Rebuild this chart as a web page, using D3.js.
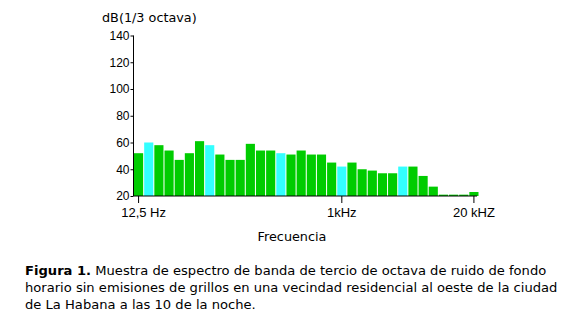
<!DOCTYPE html>
<html>
<head>
<meta charset="utf-8">
<script src="https://cdn.jsdelivr.net/npm/d3@7"></script>
<style>
  body { margin: 0; background: #fff; }
  svg { display: block; font-family: "DejaVu Sans", Verdana, sans-serif; }
  .tick text { font-size: 12px; fill: #000; }
  .x-axis .tick text { font-size: 13px; }
  .label { font-size: 12.8px; fill: #000; }
  .caption { font-size: 13.1px; fill: #000; }
</style>
</head>
<body>
<svg id="chart"></svg>
<script>
// 1/3 octave bands shown in the figure
const bands = ["10", "12.5", "16", "20", "25", "31.5", "40", "50", "63", "80",
  "100", "125", "160", "200", "250", "315", "400", "500", "630", "800",
  "1000", "1250", "1600", "2000", "2500", "3150", "4000", "5000", "6300", "8000",
  "10000", "12500", "16000", "20000"];
// level in dB for each band
const levels = [52, 60, 58, 54, 47, 52, 61, 58, 51, 47,
  47, 59, 54, 54, 52, 51, 54, 51, 51, 45,
  42, 45, 40, 39, 37, 37, 42, 42, 35, 27,
  21, 21, 21, 23];
// bands drawn in cyan
const highlighted = ["12.5", "50", "250", "1000", "4000"];
const yTicks = [20, 40, 60, 80, 100, 120, 140];
const xTickBands = ["10", "1000", "20000"];
const xTickLabels = ["12,5 Hz", "1kHz", "20 kHZ"];
const captionLines = [
  "Muestra de espectro de banda de tercio de octava de ruido de fondo",
  "horario sin emisiones de grillos en una vecindad residencial al oeste de la ciudad",
  "de La Habana a las 10 de la noche."
];

class SpectrumChart {
  constructor(_config) {
    this.config = {
      parentElement: _config.parentElement,
      containerWidth: 581,
      containerHeight: 312,
      margin: { top: 35.5, right: 102, bottom: 116, left: 133.5 }
    };
    this.initVis();
  }

  initVis() {
    let vis = this;
    vis.svg = d3.select(vis.config.parentElement)
        .attr("width", vis.config.containerWidth)
        .attr("height", vis.config.containerHeight);

    vis.innerWidth = vis.config.containerWidth - vis.config.margin.left - vis.config.margin.right;
    vis.innerHeight = vis.config.containerHeight - vis.config.margin.top - vis.config.margin.bottom;

    vis.chart = vis.svg.append("g")
        .attr("transform", `translate(${vis.config.margin.left},${vis.config.margin.top})`);

    vis.bars = vis.chart.append("g");
    vis.yAxis = vis.chart.append("g");
    vis.xAxis = vis.chart.append("g")
        .attr("class", "x-axis")
        .attr("transform", `translate(0,${vis.innerHeight})`);

    // axis titles
    vis.svg.append("text")
        .attr("class", "label")
        .attr("x", 102)
        .attr("y", 22)
        .text("dB(1/3 octava)");
    vis.svg.append("text")
        .attr("class", "label")
        .attr("x", 292)
        .attr("y", 241)
        .attr("text-anchor", "middle")
        .text("Frecuencia");

    // figure caption
    let cap = vis.svg.append("text")
        .attr("class", "caption")
        .attr("x", 25)
        .attr("y", 275);
    cap.append("tspan").attr("font-weight", "bold").text("Figura 1.");
    cap.append("tspan").text(" " + captionLines[0]);
    captionLines.slice(1).forEach((line, i) => {
      vis.svg.append("text")
          .attr("class", "caption")
          .attr("x", 25)
          .attr("y", 292 + i * 16.5)
          .text(line);
    });
  }

  updateVis() {
    let vis = this;
    vis.data = bands.map((b, i) => ({ band: b, level: levels[i] }));

    vis.xScale = d3.scaleBand()
        .domain(bands)
        .range([0, vis.innerWidth])
        .paddingInner(0.1)
        .paddingOuter(0.05);

    vis.yScale = d3.scaleLinear()
        .domain([20, 140])
        .range([vis.innerHeight, 0]);

    vis.yAxis.call(d3.axisLeft(vis.yScale).tickValues(yTicks).tickSize(3).tickPadding(1));
    vis.xAxis.call(d3.axisBottom(vis.xScale)
        .tickValues(xTickBands)
        .tickFormat((d, i) => xTickLabels[i])
        .tickSize(7)
        .tickPadding(5)
        .tickSizeOuter(0));

    vis.yAxis.select(".domain").attr("d", `M0,0V${vis.innerHeight}`);
    vis.xAxis.select(".domain").attr("d", `M0,0H${vis.innerWidth - 2}`);
    vis.chart.selectAll(".domain, .tick line").attr("stroke", "#000");
    // first label sits a little to the right of its tick
    vis.xAxis.selectAll(".tick text").attr("dx", (d, i) => i === 0 ? 5 : 0);
    this.renderVis();
  }

  renderVis() {
    let vis = this;
    vis.bars.selectAll("rect")
        .data(vis.data)
        .join("rect")
        .attr("x", d => vis.xScale(d.band))
        .attr("y", d => vis.yScale(d.level))
        .attr("width", vis.xScale.bandwidth())
        .attr("height", d => vis.innerHeight - vis.yScale(d.level))
        .attr("fill", d => highlighted.includes(d.band) ? "#33ffff" : "#00cc00");
  }
}

const chart = new SpectrumChart({ parentElement: "#chart" });
chart.updateVis();
</script>
</body>
</html>
